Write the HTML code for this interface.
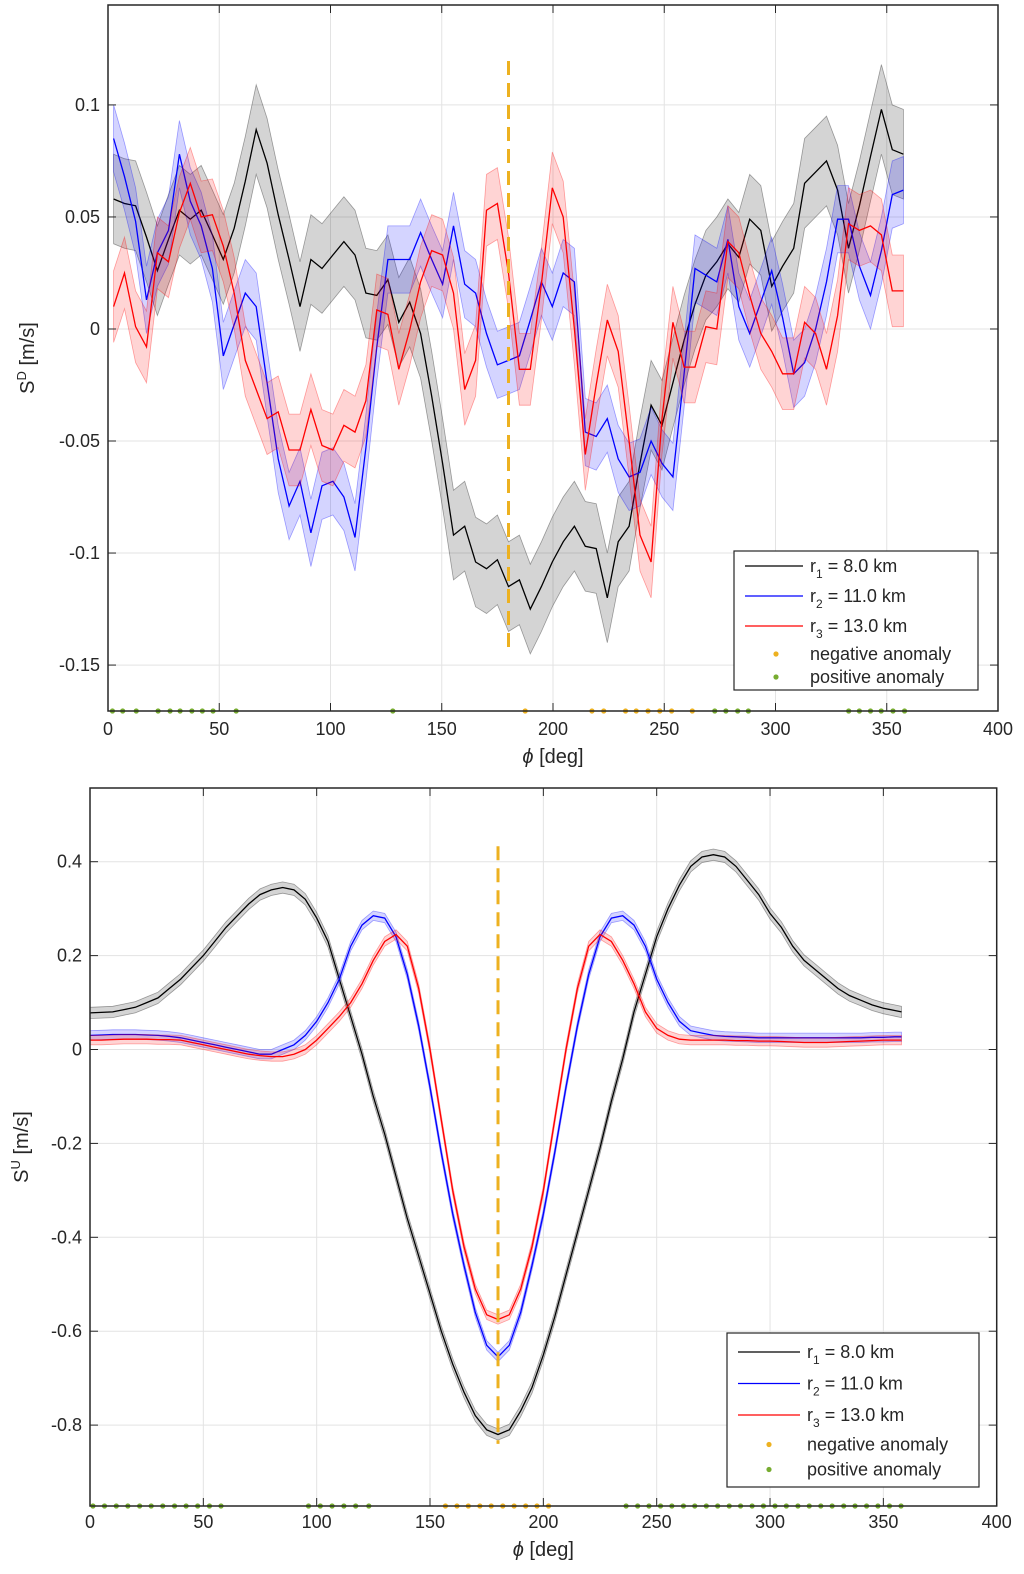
<!DOCTYPE html>
<html><head><meta charset="utf-8"><style>
html,body{margin:0;padding:0;background:#fff;}
svg{display:block;font-family:"Liberation Sans","DejaVu Sans",sans-serif;}
</style></head><body>
<svg id="fig" width="1024" height="1574" viewBox="0 0 1024 1574" xmlns="http://www.w3.org/2000/svg"></svg>
<script>
// ---- top panel data ----
const topPhi = [2.5,7.4,12.4,17.3,22.2,27.2,32.1,37,41.9,46.9,51.8,56.7,61.7,66.6,71.5,76.5,81.4,86.3,91.2,96.2,101.1,106,111,115.9,120.8,125.8,130.7,135.6,140.5,145.5,150.4,155.3,160.3,165.2,170.1,175,180,184.9,189.8,194.8,199.7,204.6,209.6,214.5,219.4,224.4,229.3,234.2,239.1,244.1,249,253.9,258.9,263.8,268.7,273.6,278.6,283.5,288.4,293.4,298.3,303.2,308.2,313.1,318,322.9,327.9,332.8,337.7,342.7,347.6,352.5,357.5];
const topR1 = [.058,.056,.055,.041,.026,.040,.053,.049,.053,.042,.031,.045,.066,.089,.074,.051,.031,.010,.031,.027,.033,.039,.033,.016,.015,.022,.003,.012,-.002,-.030,-.060,-.092,-.088,-.104,-.107,-.103,-.115,-.112,-.125,-.115,-.104,-.095,-.088,-.097,-.098,-.120,-.095,-.088,-.060,-.034,-.043,-.024,-.005,.011,.024,.030,.038,.032,.049,.044,.019,.028,.036,.065,.070,.075,.062,.036,.055,.077,.098,.080,.078];
const topR2 = [.085,.068,.048,.013,.034,.044,.078,.057,.046,.027,-.012,.002,.016,.010,-.024,-.058,-.079,-.068,-.091,-.070,-.068,-.075,-.093,-.053,-.008,.031,.031,.031,.043,.031,.020,.046,.020,.016,-.002,-.016,-.014,-.012,.004,.021,.010,.025,.021,-.046,-.048,-.040,-.058,-.066,-.064,-.050,-.060,-.066,-.020,.027,.024,.021,.040,.010,-.002,.012,.026,.005,-.020,-.015,.000,.021,.049,.049,.028,.015,.035,.060,.062];
const topR3 = [.010,.025,.001,-.008,.034,.030,.052,.065,.050,.051,.037,.016,-.014,-.027,-.040,-.037,-.054,-.054,-.036,-.052,-.054,-.043,-.046,-.032,.0085,.0065,-.018,-.0005,.021,.035,.033,.016,-.027,-.014,.053,.056,.025,-.018,-.018,.020,.063,.050,.000,-.056,-.025,.004,-.010,-.050,-.092,-.104,-.040,.003,-.017,-.017,.001,.000,.039,.034,.015,-.002,-.010,-.020,-.020,.003,-.002,-.018,.006,.047,.044,.046,.042,.017,.017];
const topErr = [0.02, 0.015, 0.016];
const topXTicks = [0,50,100,150,200,250,300,350,400];
const topYTicks = [0.1,0.05,0,-0.05,-0.1,-0.15];
const topYTickLabels = ["0.1","0.05","0","-0.05","-0.1","-0.15"];
const topNeg = [187.5,217.5,222.8,232.6,237.4,242.7,248,253.3,262.6];
const topPos = [2,6.6,12.7,22.5,27.9,32.4,37.7,42.4,47.2,57.6,128,272.7,277.7,283,287.8,332.9,337.7,342.7,347.5,352.8,358];
// ---- bottom panel data ----
const botPhi = [0,5,10,15,20,25,30,35,40,45,50,55,60,65,70,75,80,85,90,95,100,105,110,115,120,125,130,135,140,145,150,155,160,165,170,175,180,185,190,195,200,205,210,215,220,225,230,235,240,245,250,255,260,265,270,275,280,285,290,295,300,305,310,315,320,325,330,335,340,345,350,355,358];
const botR1 = [.078,.079,.08,.085,.09,.10,.11,.13,.15,.175,.2,.23,.26,.285,.31,.33,.34,.345,.34,.32,.28,.23,.15,.07,-.01,-.1,-.18,-.27,-.36,-.44,-.52,-.6,-.67,-.73,-.78,-.81,-.82,-.81,-.77,-.72,-.65,-.57,-.48,-.39,-.3,-.21,-.11,-.02,.08,.16,.24,.3,.35,.39,.41,.415,.41,.39,.36,.33,.29,.26,.22,.19,.17,.15,.13,.115,.105,.095,.088,.083,.08];
const botR2 = [.03,.031,.032,.032,.032,.031,.03,.028,.025,.02,.015,.01,.005,0,-.005,-.01,-.01,0,.01,.03,.06,.1,.15,.22,.265,.285,.28,.24,.16,.05,-.08,-.22,-.35,-.46,-.56,-.63,-.655,-.63,-.56,-.46,-.35,-.22,-.08,.05,.16,.24,.28,.285,.265,.22,.15,.1,.06,.04,.035,.03,.028,.027,.026,.025,.025,.025,.025,.025,.025,.025,.025,.025,.025,.026,.026,.027,.027];
const botR3 = [.02,.02,.021,.022,.022,.022,.021,.021,.02,.015,.01,.005,0,-.005,-.01,-.013,-.015,-.015,-.01,0,.02,.045,.07,.1,.14,.19,.23,.245,.22,.13,0,-.15,-.3,-.42,-.51,-.565,-.575,-.565,-.51,-.42,-.3,-.15,0,.13,.22,.245,.23,.19,.14,.08,.045,.03,.022,.02,.02,.02,.02,.019,.019,.018,.018,.017,.016,.015,.015,.015,.016,.017,.018,.019,.02,.02,.02];
const botErr = [0.012, 0.01, 0.01];
const botXTicks = [0,50,100,150,200,250,300,350,400];
const botYTicks = [0.4,0.2,0,-0.2,-0.4,-0.6,-0.8];
const botYTickLabels = ["0.4","0.2","0","-0.2","-0.4","-0.6","-0.8"];
const botNeg = [156.8,161.9,166.9,172,177,182.1,187.1,192.2,197.2,202.3];
const botPos = [1.3,6.4,11.6,16.7,21.9,27,32.1,37.3,42.4,47.5,52.7,57.8,96.4,101.6,106.8,112,117.2,123,236.5,241.6,246.6,251.7,256.7,261.8,266.8,271.9,276.9,282,287,292.1,297.1,302.2,307.2,312.3,317.3,322.4,327.4,332.5,337.5,342.6,347.6,352.7,357.8];

const NS = "http://www.w3.org/2000/svg";
const svg = document.getElementById('fig');
function mk(tag, attrs, parent, text){
  const e = document.createElementNS(NS, tag);
  for (const k in attrs) e.setAttribute(k, attrs[k]);
  if (text !== undefined) e.textContent = text;
  (parent || svg).appendChild(e);
  return e;
}

function panel(o){
  const g = mk('g', {});
  
  
  const X = v => o.L + (v - o.xmin) / (o.xmax - o.xmin) * (o.R - o.L);
  const Y = v => o.B - (v - o.ymin) / (o.ymax - o.ymin) * (o.B - o.T);
  const grid = mk('g', {stroke:'#e3e3e3','stroke-width':1}, g);
  
  
  o.xt.forEach(t => { mk('line', {x1:X(t),x2:X(t),y1:o.T,y2:o.B}, grid); });
  o.yt.forEach(t => { mk('line', {x1:o.L,x2:o.R,y1:Y(t),y2:Y(t)}, grid); });
  const cols = [['#000000','rgba(0,0,0,0.17)','rgba(0,0,0,0.35)'],['#0000ff','rgba(0,0,255,0.17)','rgba(0,0,255,0.35)'],['#ff0000','rgba(255,0,0,0.17)','rgba(255,0,0,0.35)']];
  o.series.forEach((s, si) => {
    const up = o.phi.map((p,i) => X(p).toFixed(1)+','+Y(s[i]+o.err[si]).toFixed(1));
    const lo = o.phi.map((p,i) => X(p).toFixed(1)+','+Y(s[i]-o.err[si]).toFixed(1)).reverse();
    const band = mk('polygon', {points: up.concat(lo).join(' '), fill: cols[si][1], stroke: cols[si][2], 'stroke-width':0.8}, g);
    
    
    const ln = mk('polyline', {points: o.phi.map((p,i)=>X(p).toFixed(1)+','+Y(s[i]).toFixed(1)).join(' '), fill:'none', stroke: cols[si][0], 'stroke-width':1.3}, g);
    
    
  });
  const dl = mk('line', {x1:X(180),x2:X(180),y1:Y(o.dash[0]),y2:Y(o.dash[1]),stroke:'#EDB120','stroke-width':3,'stroke-dasharray':'14,8'}, g);
  
  
  o.neg.forEach(p => {
    const c = mk('circle', {cx:X(p), cy:o.B, r:2.6, fill:'#EDB120'}, g);
    
    
  });
  o.pos.forEach(p => {
    const c = mk('circle', {cx:X(p), cy:o.B, r:2.6, fill:'#77AC30'}, g);
    
    
  });
  const box = mk('rect', {x:o.L,y:o.T,width:o.R-o.L,height:o.B-o.T,fill:'none',stroke:'#262626','stroke-width':1.5}, g);
  
  
  o.xt.forEach(t => {
    mk('line', {x1:X(t),x2:X(t),y1:o.B,y2:o.B-8,stroke:'#262626','stroke-width':1}, g);
    mk('line', {x1:X(t),x2:X(t),y1:o.T,y2:o.T+8,stroke:'#262626','stroke-width':1}, g);
    const tx = mk('text', {x:X(t), y:o.B+o.xtoff, 'text-anchor':'middle', 'font-size':18, fill:'#262626'}, g, String(t));
    
    
  });
  o.yt.forEach((t,i) => {
    mk('line', {x1:o.L,x2:o.L+8,y1:Y(t),y2:Y(t),stroke:'#262626','stroke-width':1}, g);
    mk('line', {x1:o.R,x2:o.R-8,y1:Y(t),y2:Y(t),stroke:'#262626','stroke-width':1}, g);
    const ty = mk('text', {x:o.L-8, y:Y(t)+6, 'text-anchor':'end', 'font-size':18, fill:'#262626'}, g, o.ytl[i]);
    
    
  });
  const xl = mk('text', {x:(o.L+o.R)/2, y:o.xly, 'text-anchor':'middle', 'font-size':20, fill:'#262626'}, g);
  
  
  mk('tspan', {'font-style':'italic'}, xl, 'ϕ');
  mk('tspan', {}, xl, ' [deg]');
  const yl = mk('text', {x:0, y:0, 'text-anchor':'middle', 'font-size':20, fill:'#262626', transform:'translate('+o.ylx+','+((o.T+o.B)/2)+') rotate(-90)'}, g);
  
  
  mk('tspan', {}, yl, 'S');
  mk('tspan', {'font-size':13, dy:-8}, yl, o.sup);
  mk('tspan', {dy:8}, yl, ' [m/s]');
  const lg = mk('g', {}, g);
  
  
  const lb = o.leg;
  mk('rect', {x:lb.x,y:lb.y,width:lb.w,height:lb.h,fill:'#fff',stroke:'#262626','stroke-width':1.2}, lg);
  const names = [['1','8.0'],['2','11.0'],['3','13.0']];
  names.forEach((n,i) => {
    const yy = lb.y + lb.r0 + i*lb.dy;
    const e = mk('g', {}, lg);
    
    
    mk('line', {x1:lb.x+11,x2:lb.x+lb.le,y1:yy,y2:yy,stroke:cols[i][0],'stroke-width':1.3}, e);
    const t = mk('text', {x:lb.x+lb.tx, y:yy+6, 'font-size':18, fill:'#262626'}, e);
    mk('tspan', {}, t, 'r');
    mk('tspan', {'font-size':12, dy:6}, t, n[0]);
    mk('tspan', {dy:-6}, t, ' = ' + n[1] + ' km');
  });
  [['#EDB120','negative anomaly'],['#77AC30','positive anomaly']].forEach((d,i) => {
    const yy = lb.y + lb.r0 + 3*lb.dy - 2 + i*lb.dy2;
    const e = mk('g', {}, lg);
    
    
    mk('circle', {cx:lb.x+42, cy:yy, r:2.6, fill:d[0]}, e);
    mk('text', {x:lb.x+lb.tx, y:yy+6, 'font-size':18, fill:'#262626'}, e, d[1]);
  });
}

panel({name:'top-panel', L:108, R:998, T:5, B:711, xmin:0, xmax:400, ymin:-0.1705, ymax:0.1446,
  xt:topXTicks, yt:topYTicks, ytl:topYTickLabels, phi:topPhi, series:[topR1,topR2,topR3], err:topErr,
  neg:topNeg, pos:topPos, dash:[0.1196,-0.1437], sup:'D', ylx:34, xtoff:24, xly:763,
  leg:{x:734,y:551,w:244,h:139,r0:15,dy:30,dy2:23,le:69,tx:76}});
panel({name:'bottom-panel', L:90, R:996.7, T:788, B:1506, xmin:0, xmax:400, ymin:-0.9723, ymax:0.557,
  xt:botXTicks, yt:botYTicks, ytl:botYTickLabels, phi:botPhi, series:[botR1,botR2,botR3], err:botErr,
  neg:botNeg, pos:botPos, dash:[0.433,-0.84], sup:'U', ylx:28, xtoff:22, xly:1556,
  leg:{x:727,y:1333,w:252,h:154,r0:19,dy:31.5,dy2:25,le:73,tx:80}});
</script>
</body></html>
